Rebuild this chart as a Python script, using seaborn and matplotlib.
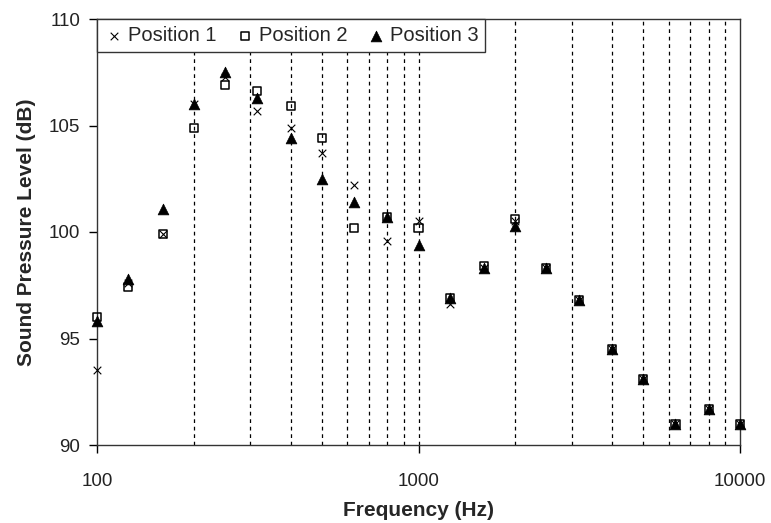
import numpy as np
import pandas as pd
import matplotlib
matplotlib.use("Agg")
import matplotlib.pyplot as plt
import seaborn as sns
from matplotlib.ticker import FixedLocator, NullLocator

freqs = [100, 125, 160, 200, 250, 315, 400, 500, 630, 800, 1000,
         1250, 1600, 2000, 2500, 3150, 4000, 5000, 6300, 8000, 10000]
pos1 = [93.5, 97.6, 99.9, 106.0, 107.3, 105.7, 104.9, 103.7, 102.2, 99.6, 100.5,
        96.6, 98.3, 100.5, 98.3, 96.8, 94.5, 93.1, 91.0, 91.7, 91.0]
pos2 = [96.0, 97.4, 99.9, 104.9, 106.9, 106.6, 105.9, 104.4, 100.2, 100.7, 100.2,
        96.9, 98.4, 100.6, 98.3, 96.8, 94.5, 93.1, 91.0, 91.7, 91.0]
pos3 = [95.8, 97.8, 101.1, 106.0, 107.5, 106.3, 104.4, 102.5, 101.4, 100.7, 99.4,
        96.9, 98.3, 100.3, 98.3, 96.8, 94.5, 93.1, 91.0, 91.7, 91.0]
series_names = ["Position 1", "Position 2", "Position 3"]
y_ticks = [90, 95, 100, 105, 110]
x_ticks = [100, 1000, 10000]
grid_positions = [200, 300, 400, 500, 600, 700, 800, 900, 1000,
                  2000, 3000, 4000, 5000, 6000, 7000, 8000, 9000]

sns.set_theme(style="white")
plt.rcParams['font.family'] = ['Liberation Sans', 'DejaVu Sans']

fig = plt.figure(figsize=(7.71, 5.23), dpi=100)
ax = fig.add_axes([97/771, 1 - 445/523, (740 - 97)/771, (445 - 19)/523])

df1 = pd.DataFrame({"f": freqs, "spl": pos1})
df2 = pd.DataFrame({"f": freqs, "spl": pos2})
df3 = pd.DataFrame({"f": freqs, "spl": pos3})

sns.scatterplot(data=df1, x="f", y="spl", ax=ax, marker="x", color="black",
                s=30, linewidth=0.8, label=series_names[0], zorder=3, clip_on=False)
sns.scatterplot(data=df2, x="f", y="spl", ax=ax, marker="s", facecolor="none",
                edgecolor="black", s=34, linewidth=1.1, label=series_names[1], zorder=3,
                clip_on=False)
sns.scatterplot(data=df3, x="f", y="spl", ax=ax, marker="^", color="black",
                edgecolor="black", s=60, linewidth=0.5, label=series_names[2], zorder=4,
                clip_on=False)

ax.set_xscale("log")
ax.set_xlim(100, 10000)
ax.set_ylim(90, 110)
ax.xaxis.set_major_locator(FixedLocator(x_ticks))
ax.xaxis.set_minor_locator(NullLocator())
ax.set_xticks(x_ticks)
ax.set_xticklabels([str(v) for v in x_ticks])
ax.set_yticks(y_ticks)
ax.set_yticklabels([str(v) for v in y_ticks])

for gx in grid_positions:
    ax.axvline(gx, color="black", linestyle=(0, (3, 3)), linewidth=0.9, zorder=1)

for sp in ax.spines.values():
    sp.set_color("#333333")
    sp.set_linewidth(1.0)
    sp.set_visible(True)

ax.tick_params(axis="both", which="major", direction="out", length=6, width=1,
               color="black", labelsize=13.5, labelcolor="#222222", bottom=True, left=True)
ax.tick_params(axis="x", pad=14)
ax.tick_params(axis="y", pad=6)

ax.set_xlabel("Frequency (Hz)", fontsize=15, fontweight="bold", labelpad=8)
ax.set_ylabel("Sound Pressure Level (dB)", fontsize=15, fontweight="bold", labelpad=9)

leg = ax.legend(loc="upper left", bbox_to_anchor=(0, 1), ncol=3, frameon=True,
                fancybox=False, borderaxespad=0, fontsize=14.5, handletextpad=0.2,
                columnspacing=0.9, handlelength=1.0, borderpad=0.35)
leg.get_frame().set_edgecolor("#333333")
leg.get_frame().set_linewidth(1.0)
leg.get_frame().set_alpha(1)
leg.set_zorder(10)

fig.savefig("out.png", dpi=100)
